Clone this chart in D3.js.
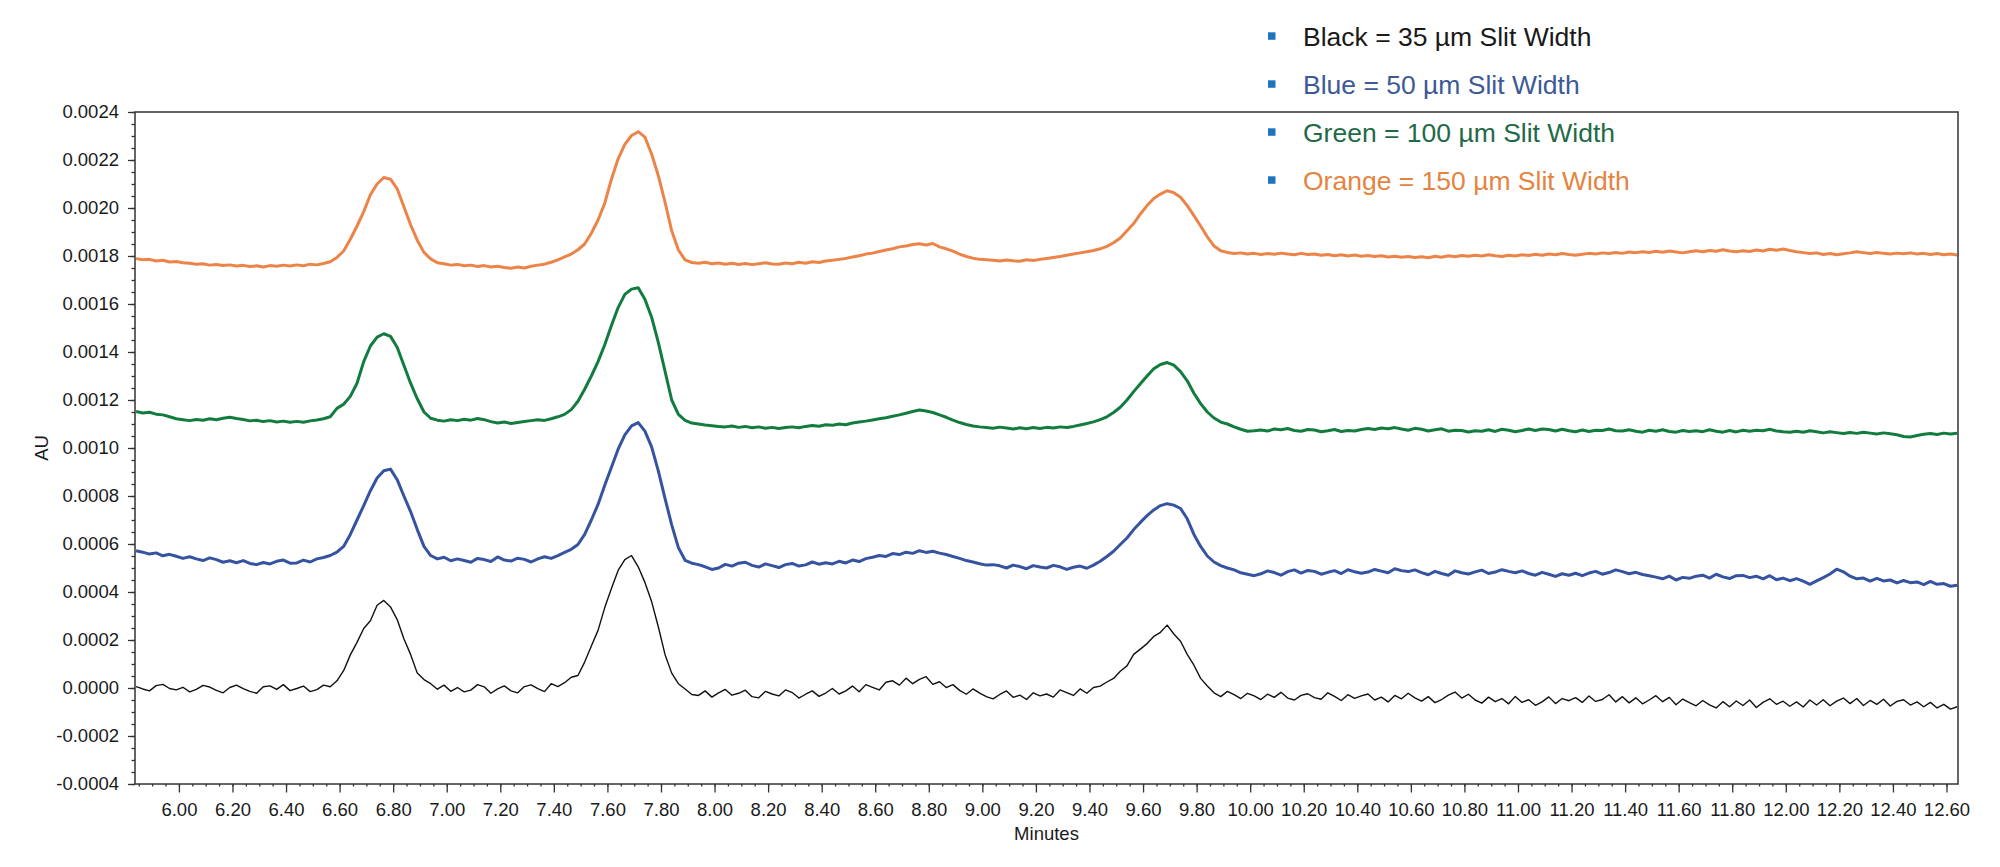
<!DOCTYPE html>
<html>

<head>
    <meta charset="UTF-8">
    <title>Slit width chromatograms</title>
    <script src="https://cdn.jsdelivr.net/npm/d3@7"></script>
    <style>
        body {
            margin: 0;
            background: #fff;
        }

        svg {
            font-family: "Liberation Sans", Arial, sans-serif;
        }

        .axis text {
            font-size: 18.5px;
            fill: #1a1a1a;
        }

        .axis path {
            display: none;
        }

        .axis line {
            stroke: #333;
            stroke-width: 1.3px;
        }

        .frame {
            fill: none;
            stroke: #333;
            stroke-width: 1.5px;
        }

        .trace {
            fill: none;
            stroke-linejoin: round;
        }

        .title {
            font-size: 18.5px;
            fill: #1a1a1a;
        }

        .legend text {
            font-size: 26.5px;
        }
    </style>
</head>

<body>
    <svg id="chart" width="2000" height="867"></svg>

    <script>
        // sampling of the traces (minutes)
        const startMin = 5.84;
        const stepMin = 0.025;

        // absorbance, in micro-AU, one value every 0.025 min from 5.84
        const orangeTrace = [
            1789, 1784, 1786, 1779, 1782, 1775, 1777, 1772,
            1770, 1766, 1768, 1762, 1765, 1760, 1763, 1758,
            1761, 1756, 1759, 1754, 1760, 1757, 1762, 1758,
            1763, 1759, 1766, 1763, 1769, 1776, 1794, 1821,
            1870, 1925, 1985, 2055, 2100, 2127, 2120, 2080,
            2005, 1930, 1866, 1815, 1788, 1772, 1768, 1762,
            1765, 1759, 1762, 1756, 1760, 1754, 1757, 1752,
            1749, 1754, 1750, 1757, 1762, 1766, 1774, 1784,
            1796, 1808, 1826, 1850, 1895, 1950, 2020, 2120,
            2205, 2265, 2302, 2318, 2295, 2225, 2135, 2025,
            1905, 1825, 1784, 1773, 1770, 1774, 1768, 1771,
            1766, 1770, 1765, 1769, 1764, 1768, 1772, 1767,
            1766, 1771, 1768, 1774, 1770, 1776, 1773, 1779,
            1782, 1786, 1790, 1796, 1801, 1808, 1812, 1819,
            1825, 1830, 1838, 1842, 1848, 1851, 1846, 1852,
            1838, 1830, 1820, 1808, 1798, 1791, 1786, 1784,
            1782, 1779, 1783, 1780, 1778, 1784, 1781, 1786,
            1790, 1794, 1798, 1803, 1808, 1813, 1818, 1823,
            1830, 1840, 1855, 1875, 1905, 1935, 1975, 2010,
            2040, 2058, 2072, 2064, 2045, 2010, 1968, 1925,
            1880, 1842, 1822, 1815, 1810, 1813, 1808, 1811,
            1806, 1810, 1807, 1812, 1808, 1805, 1811, 1806,
            1808, 1803, 1806, 1801, 1805, 1800, 1804, 1799,
            1802, 1798, 1801, 1796, 1799, 1795, 1798, 1794,
            1797, 1793, 1799, 1795, 1801, 1797, 1802, 1799,
            1803, 1800, 1805, 1801, 1798, 1803, 1800, 1805,
            1802, 1807, 1803, 1808, 1805, 1810, 1806, 1803,
            1807, 1811, 1808, 1813, 1810, 1815, 1811, 1817,
            1814, 1818, 1815, 1820, 1816, 1821, 1817, 1813,
            1818, 1822, 1818, 1823, 1820, 1826, 1821, 1818,
            1822, 1819, 1825, 1821, 1828, 1824, 1829, 1823,
            1818, 1814, 1810, 1813, 1806, 1810, 1805, 1809,
            1813, 1818, 1814, 1810, 1815, 1811, 1808, 1812,
            1809, 1813, 1808, 1811, 1806, 1810, 1805, 1808,
            1804
        ];

        const greenTrace = [
            1152, 1146, 1149, 1141, 1138, 1130, 1122, 1118,
            1114, 1119, 1116, 1122, 1118, 1124, 1128, 1123,
            1119, 1113, 1116, 1110, 1114, 1108, 1112, 1107,
            1111, 1107, 1113, 1117, 1122, 1130, 1165, 1182,
            1215, 1270, 1360, 1425, 1462, 1476, 1465, 1420,
            1345, 1270, 1205, 1150, 1124, 1116, 1112, 1118,
            1114, 1120, 1116, 1123, 1118, 1110, 1104, 1108,
            1102, 1106, 1110, 1114, 1118, 1115, 1122, 1130,
            1140, 1160, 1195, 1245, 1300, 1360, 1430, 1510,
            1585, 1640, 1662, 1668, 1620, 1545, 1440, 1320,
            1200, 1140, 1115, 1104, 1100, 1096, 1093, 1090,
            1088, 1092, 1086, 1090, 1084, 1088, 1082, 1086,
            1081, 1085, 1088, 1084, 1090, 1094, 1091, 1097,
            1095, 1100, 1097, 1104, 1108, 1112, 1117, 1122,
            1126, 1132, 1138, 1145, 1152, 1158, 1154, 1148,
            1138, 1128, 1116, 1106, 1098, 1092, 1088, 1085,
            1082, 1087, 1083, 1079, 1084, 1080, 1085, 1081,
            1086, 1083, 1088, 1085, 1090, 1096, 1102, 1109,
            1118, 1130, 1148, 1170, 1200, 1235, 1268, 1300,
            1330, 1348, 1356, 1345, 1318, 1280, 1228, 1185,
            1150, 1125, 1108, 1100, 1088, 1078, 1070, 1072,
            1075, 1071, 1079, 1076, 1081, 1073, 1070, 1077,
            1075, 1068, 1072, 1077, 1069, 1073, 1071, 1077,
            1081, 1077, 1083, 1080, 1085, 1079, 1074, 1082,
            1078, 1071, 1076, 1080, 1070, 1074, 1073, 1067,
            1072, 1070, 1076, 1069, 1078, 1074, 1068, 1073,
            1079, 1073, 1079, 1077, 1071, 1078, 1072, 1068,
            1075, 1069, 1074, 1073, 1079, 1072, 1071, 1076,
            1070, 1066, 1074, 1070, 1076, 1069, 1066, 1073,
            1069, 1072, 1068, 1076, 1070, 1066, 1073, 1067,
            1074, 1070, 1074, 1072, 1078, 1071, 1068, 1066,
            1070, 1066, 1072, 1068, 1063, 1068, 1064, 1060,
            1065, 1061, 1066, 1062, 1058, 1063, 1059, 1055,
            1048, 1046, 1052, 1057, 1060, 1056, 1062, 1058,
            1061
        ];

        const blueTrace = [
            572, 566, 558, 563, 551, 557, 549, 540,
            547, 538, 531, 542, 535, 524, 530, 522,
            531, 519, 514, 523, 517, 528, 533, 520,
            521, 533, 525, 538, 544, 552, 566, 590,
            640, 700, 760, 822, 875, 905, 912, 868,
            800, 735, 660, 590, 552, 538, 545, 530,
            538, 531, 524, 540, 535, 527, 546, 533,
            529, 541, 536, 525, 538, 547, 540, 552,
            565, 578, 598, 640, 700, 765, 845, 920,
            995, 1055, 1092, 1106, 1070, 1005, 905, 790,
            680, 585, 532, 520, 514, 505, 494, 500,
            515, 508, 520, 524, 511, 504, 517, 510,
            502, 514, 519, 508, 513, 525, 516, 522,
            517, 528, 521, 533, 527, 539, 545, 552,
            548, 560, 556, 566, 561, 572, 565, 570,
            562, 556, 548, 540, 531, 525, 518, 512,
            514, 509, 500, 512, 506, 497, 510, 504,
            500, 511, 505, 494, 503, 508, 499, 512,
            528, 548, 570, 598, 625, 660, 690, 718,
            742, 760, 768, 762, 748, 705, 640, 590,
            550, 525, 510, 500, 492, 480, 474, 468,
            476, 488, 481, 470, 485, 492, 479, 490,
            486, 474, 482, 489, 477, 493, 484, 478,
            483, 494, 487, 480, 497, 489, 485, 492,
            481, 472, 486, 477, 470, 488, 480, 475,
            484, 491, 477, 483, 493, 486, 480, 488,
            477, 470, 482, 474, 465, 476, 470, 478,
            468, 479, 486, 474, 481, 492, 485, 476,
            482, 473, 468, 462, 455, 466, 450, 461,
            457, 466, 470, 458, 474, 463, 456, 468,
            469, 460, 466, 455, 468, 451, 458, 447,
            456, 445, 432, 446, 460, 475, 495, 484,
            466, 455, 458, 445, 457, 446, 450, 438,
            448, 439, 442, 431, 444, 432, 435, 424,
            428
        ];

        const blackTrace = [
            6, -4, -12, 10, 15, -2, -8, 3,
            -16, -6, 11, 4, -10, -20, 2, 12,
            -3, -14, -22, 5, 9, -6, 14, -11,
            -2, 8, -15, -7, 12, 5, 30, 72,
            138, 190, 248, 280, 345, 365, 338, 285,
            205, 140, 62, 35, 18, -5, 12, -14,
            2, -16, -9, 14, 5, -22, -4, 9,
            -12, -20, 6, 13, -3, -15, 18, 6,
            22, 45, 52, 108, 175, 240, 335, 415,
            490, 535, 552, 505, 440, 360, 255, 140,
            62, 18, -4, -27, -31, -12, -38, -20,
            -6, -30, -22, -9, -36, -41, -14, -25,
            -33, -8, -19, -42, -26, -12, -35, -21,
            -2, -25, -12, 8, -16, 14, 3, -8,
            24, 30, 12, 41, 18, 36, 47, 15,
            26, 2, 14, -10, -26, -4, -21, -36,
            -45, -27, -12, -39, -30, -48, -20, -33,
            -25, -38, -8, -19, -31, -4, -22, 2,
            8, 25, 40, 70, 92, 140, 162, 185,
            215, 232, 262, 225, 195, 140, 95, 40,
            8, -20, -36, -14, -28, -44, -22, -33,
            -48, -26, -39, -18, -42, -50, -31, -24,
            -40, -47, -20, -35, -52, -28, -43, -33,
            -25, -50, -38, -58, -31, -45, -22, -41,
            -55, -36, -61, -48, -30, -17, -42, -26,
            -50, -63, -38, -57, -44, -66, -35, -60,
            -49, -72, -58, -37, -65, -44, -53, -40,
            -60, -33, -56, -48, -28, -58, -36, -62,
            -41, -66, -50, -32, -57, -39, -70, -46,
            -61, -74, -52, -70, -83, -57, -78, -54,
            -73, -50, -81, -60, -45, -68, -55, -76,
            -58, -79, -50, -71, -49, -74, -55, -42,
            -65, -44, -73, -52, -68, -47, -75, -56,
            -49, -71, -58, -78, -60, -83, -68, -88,
            -78
        ];

        // axis ticks
        const xTicks = [6.00, 6.20, 6.40, 6.60, 6.80, 7.00, 7.20, 7.40, 7.60, 7.80,
            8.00, 8.20, 8.40, 8.60, 8.80, 9.00, 9.20, 9.40, 9.60, 9.80,
            10.00, 10.20, 10.40, 10.60, 10.80, 11.00, 11.20, 11.40, 11.60, 11.80,
            12.00, 12.20, 12.40, 12.60
        ];
        const yTicks = [-0.0004, -0.0002, 0.0000, 0.0002, 0.0004, 0.0006, 0.0008,
            0.0010, 0.0012, 0.0014, 0.0016, 0.0018, 0.0020, 0.0022, 0.0024
        ];

        const legendLabels = ['Black = 35 µm Slit Width', 'Blue = 50 µm Slit Width',
            'Green = 100 µm Slit Width', 'Orange = 150 µm Slit Width'
        ];

        const series = [
            { values: orangeTrace, color: '#ec8448', width: 3 },
            { values: greenTrace, color: '#127c3f', width: 3 },
            { values: blueTrace, color: '#3553a0', width: 3 },
            { values: blackTrace, color: '#111111', width: 1.4 }
        ];
        const legendColors = ['#1a1a1a', '#3d5a96', '#1f6a47', '#e4843f'];

        const margin = { top: 112, left: 135 };
        const width = 1823;
        const height = 672;

        const svg = d3.select('#chart');

        const x = d3.scaleLinear()
            .domain([5.836, 12.643])
            .range([margin.left, margin.left + width]);

        const y = d3.scaleLinear()
            .domain([-0.0004, 0.0024])
            .range([margin.top + height, margin.top]);

        svg.append('defs').append('clipPath')
            .attr('id', 'plot-clip')
            .append('rect')
            .attr('x', margin.left)
            .attr('y', margin.top)
            .attr('width', width)
            .attr('height', height);

        // minor ticks first, majors drawn on top
        svg.append('g')
            .attr('class', 'axis')
            .attr('transform', `translate(0,${ margin.top + height })`)
            .call(d3.axisBottom(x)
                .tickValues(d3.range(5.85, 12.64, 0.05))
                .tickSize(2.5)
                .tickFormat(''));

        svg.append('g')
            .attr('class', 'axis x-axis')
            .attr('transform', `translate(0,${ margin.top + height })`)
            .call(d3.axisBottom(x)
                .tickValues(xTicks)
                .tickSize(8.5)
                .tickPadding(10.5)
                .tickFormat(d3.format('.2f')));

        svg.append('g')
            .attr('class', 'axis')
            .attr('transform', `translate(${ margin.left },0)`)
            .call(d3.axisLeft(y)
                .tickValues(d3.range(-0.0004, 0.00241, 0.00005))
                .tickSize(3.5)
                .tickFormat(''));

        svg.append('g')
            .attr('class', 'axis y-axis')
            .attr('transform', `translate(${ margin.left },0)`)
            .call(d3.axisLeft(y)
                .tickValues(yTicks)
                .tickSize(7)
                .tickPadding(9)
                .tickFormat(d => (d < -1e-9 ? '-' : '') + Math.abs(d).toFixed(4)));

        const line = d3.line()
            .x((d, i) => x(startMin + i * stepMin))
            .y(d => y(d / 1e6));

        svg.append('g')
            .attr('clip-path', 'url(#plot-clip)')
            .selectAll('path')
            .data(series)
            .enter()
            .append('path')
            .attr('class', 'trace')
            .attr('d', d => line(d.values))
            .style('stroke', d => d.color)
            .style('stroke-width', d => d.width);

        svg.append('rect')
            .attr('class', 'frame')
            .attr('x', margin.left)
            .attr('y', margin.top)
            .attr('width', width)
            .attr('height', height);

        svg.append('text')
            .attr('class', 'title')
            .attr('x', margin.left + width / 2)
            .attr('y', 839.5)
            .attr('text-anchor', 'middle')
            .text('Minutes');

        svg.append('text')
            .attr('class', 'title')
            .attr('transform', `translate(47.5,${ margin.top + height / 2 }) rotate(-90)`)
            .attr('text-anchor', 'middle')
            .text('AU');

        const legend = svg.append('g')
            .attr('class', 'legend')
            .selectAll('g')
            .data(legendLabels)
            .enter()
            .append('g')
            .attr('transform', (d, i) => `translate(1268,${ 45.5 + i * 48 })`);

        legend.append('rect')
            .attr('x', 0)
            .attr('y', -13.2)
            .attr('width', 7.5)
            .attr('height', 7.5)
            .style('fill', '#1f75bd');

        legend.append('text')
            .attr('x', 35)
            .attr('y', 0)
            .style('fill', (d, i) => legendColors[i])
            .text(d => d);
    </script>
</body>

</html>
